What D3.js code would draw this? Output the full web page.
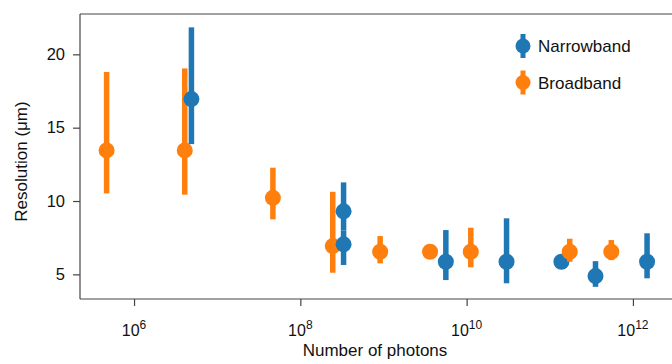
<!DOCTYPE html>
<html>
<head>
<meta charset="utf-8">
<script src="https://cdn.jsdelivr.net/npm/d3@7"></script>
<style>
  body { margin: 0; background: #fff; }
  svg text { font-family: "Liberation Sans", Arial, sans-serif; fill: #111; }
</style>
</head>
<body>
<div id="chart"></div>
<script>
// data (x as log10 of photon number)
var narrowLogN = [6.69, 8.52, 8.52, 9.75, 10.48, 11.14, 11.55, 12.17]
var narrowRes  = [16.95, 9.3, 7.05, 5.86, 5.86, 5.86, 4.88, 5.86]
var narrowLow  = [13.88, 8.0, 5.64, 4.61, 4.39, 5.86, 4.15, 4.73]
var narrowHigh = [21.84, 11.27, 8.0, 8.02, 8.82, 5.86, 5.9, 7.8]

var broadLogN = [5.67, 6.61, 7.67, 8.39, 8.96, 9.56, 10.05, 11.24, 11.74]
var broadRes  = [13.45, 13.45, 10.22, 6.93, 6.54, 6.54, 6.54, 6.54, 6.54]
var broadLow  = [10.52, 10.43, 8.75, 5.11, 5.75, 6.54, 5.48, 5.86, 5.97]
var broadHigh = [18.8, 19.04, 12.27, 10.63, 7.61, 6.54, 8.18, 7.43, 7.34]

var seriesNames = ["Narrowband", "Broadband"]
var seriesColors = ["#1f77b4", "#ff7f0e"]
var xTickExp = [6, 8, 10, 12]
var yTicks = [5, 10, 15, 20]

var W = 672, H = 364
var margin = {top: 14, right: 0, bottom: 65, left: 80}
var width = W - margin.left - margin.right,
    height = H - margin.top - margin.bottom

var svg = d3.select("#chart")
    .append("svg")
    .attr("width", W)
    .attr("height", H)
    .append("g")
    .attr("transform", "translate(" + margin.left + "," + margin.top + ")")

var scale_x = d3.scaleLog()
    .domain([Math.pow(10, 5.35), Math.pow(10, 12.47)])
    .range([0, width])

var scale_y = d3.scaleLinear()
    .domain([3.32, 22.75])
    .range([height, 0])

// spines (left, top, bottom only)
var spine = "#444"
svg.append("line").attr("x1", 0).attr("x2", 0).attr("y1", 0).attr("y2", height)
    .attr("stroke", spine).attr("stroke-width", 1.2)
svg.append("line").attr("x1", 0).attr("x2", width).attr("y1", 0).attr("y2", 0)
    .attr("stroke", spine).attr("stroke-width", 1.2)
svg.append("line").attr("x1", 0).attr("x2", width).attr("y1", height).attr("y2", height)
    .attr("stroke", spine).attr("stroke-width", 1.2)

// y axis
var yAxis = svg.append("g")
    .call(d3.axisLeft(scale_y).tickValues(yTicks).tickSize(7).tickPadding(8))
yAxis.select(".domain").remove()
yAxis.selectAll("line").attr("stroke", spine).attr("stroke-width", 1.2)
yAxis.selectAll("text").style("font-size", "16.5px").attr("fill", "#111")
    .attr("font-family", "Liberation Sans, Arial, sans-serif")

// x axis with superscript labels
var xAxis = svg.append("g")
    .attr("transform", "translate(0," + height + ")")
    .call(d3.axisBottom(scale_x).tickValues(xTickExp.map(function(e) { return Math.pow(10, e) }))
        .tickSize(7).tickFormat(""))
xAxis.select(".domain").remove()
xAxis.selectAll("line").attr("stroke", spine).attr("stroke-width", 1.2)

xTickExp.forEach(function(e) {
    var t = svg.append("text")
        .attr("x", scale_x(Math.pow(10, e)))
        .attr("y", height + 37)
        .attr("text-anchor", "middle")
        .style("font-size", "16px")
    t.append("tspan").text("10")
    t.append("tspan").attr("dy", -7).style("font-size", "12px").text(e)
})

// axis labels
svg.append("text")
    .attr("x", width / 2 - 1)
    .attr("y", height + 57)
    .attr("text-anchor", "middle")
    .style("font-size", "17px")
    .text("Number of photons")

svg.append("text")
    .attr("transform", "translate(-53," + (height / 2 + 5) + ") rotate(-90)")
    .attr("text-anchor", "middle")
    .style("font-size", "17px")
    .text("Resolution (μm)")

// combine points and draw in order of x so overlaps look right
var points = []
narrowLogN.forEach(function(v, i) {
    points.push({x: v, y: narrowRes[i], lo: narrowLow[i], hi: narrowHigh[i], s: 0})
})
broadLogN.forEach(function(v, i) {
    points.push({x: v, y: broadRes[i], lo: broadLow[i], hi: broadHigh[i], s: 1})
})
points.sort(function(a, b) { return a.x - b.x })

var marks = svg.selectAll("g.pt")
    .data(points)
    .enter()
    .append("g")
    .attr("class", "pt")

marks.append("line")
    .attr("x1", d => scale_x(Math.pow(10, d.x)))
    .attr("x2", d => scale_x(Math.pow(10, d.x)))
    .attr("y1", d => scale_y(d.lo))
    .attr("y2", d => scale_y(d.hi))
    .attr("stroke", d => seriesColors[d.s])
    .attr("stroke-width", 5.5)

marks.append("circle")
    .attr("cx", d => scale_x(Math.pow(10, d.x)))
    .attr("cy", d => scale_y(d.y))
    .attr("r", 8)
    .attr("fill", d => seriesColors[d.s])

// legend
var legend = svg.selectAll("g.leg")
    .data(seriesNames)
    .enter()
    .append("g")
    .attr("class", "leg")
    .attr("transform", (d, i) => "translate(" + (523 - margin.left) + "," + (46 - margin.top + i * 36.5) + ")")

legend.append("line")
    .attr("x1", 0).attr("x2", 0).attr("y1", -12).attr("y2", 12)
    .attr("stroke", (d, i) => seriesColors[i])
    .attr("stroke-width", 5)
legend.append("circle")
    .attr("r", 7.5)
    .attr("fill", (d, i) => seriesColors[i])
legend.append("text")
    .attr("x", 15)
    .attr("y", 6)
    .style("font-size", "17px")
    .text(d => d)
</script>
</body>
</html>
